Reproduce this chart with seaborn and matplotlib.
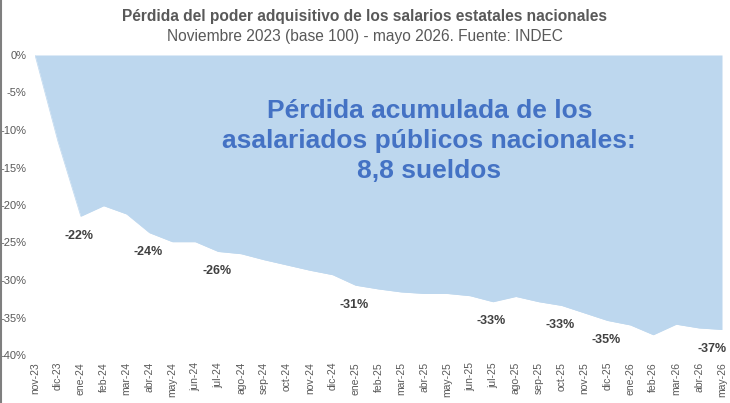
import matplotlib
matplotlib.use("Agg")
import matplotlib.pyplot as plt
import seaborn as sns
import pandas as pd
import numpy as np
from matplotlib.lines import Line2D

sns.set_theme(style="white")
plt.rcParams['font.family'] = ['Liberation Sans', 'DejaVu Sans']

months = ["nov-23", "dic-23", "ene-24", "feb-24", "mar-24", "abr-24", "may-24", "jun-24",
          "jul-24", "ago-24", "sep-24", "oct-24", "nov-24", "dic-24", "ene-25", "feb-25",
          "mar-25", "abr-25", "may-25", "jun-25", "jul-25", "ago-25", "sep-25", "oct-25",
          "nov-25", "dic-25", "ene-26", "feb-26", "mar-26", "abr-26", "may-26"]
perdida = [0.0, -11.5, -21.5, -20.1, -21.2, -23.7, -24.9, -24.9,
           -26.2, -26.5, -27.3, -28.0, -28.7, -29.3, -30.7, -31.2,
           -31.6, -31.8, -31.8, -32.1, -32.9, -32.2, -32.9, -33.4,
           -34.4, -35.4, -36.0, -37.3, -35.9, -36.4, -36.6]
label_months = ["ene-24", "abr-24", "jul-24", "ene-25", "jul-25", "oct-25", "dic-25", "may-26"]
yticks = [0, -5, -10, -15, -20, -25, -30, -35, -40]

df = pd.DataFrame({"mes": months, "perdida": perdida})
df["pos"] = np.arange(len(df))

fig = plt.figure(figsize=(7.30, 4.03), dpi=100)
ax = fig.add_axes([35 / 730, 1 - 355 / 403, (722 - 35) / 730, 300 / 403])

sns.lineplot(data=df, x="pos", y="perdida", ax=ax, color="#BDD7EE", linewidth=0.5)
ax.fill_between(df["pos"], df["perdida"], 0, color="#BDD7EE", linewidth=0)

ax.set_xlim(0, len(df) - 1)
ax.set_ylim(-40, 0)
ax.set_xticks(df["pos"])
ax.set_xticklabels(df["mes"], rotation=90, fontsize=7.5, color="#595959")
ax.set_yticks(yticks)
ax.set_yticklabels([f"{v}%" for v in yticks], fontsize=8, color="#595959")
ax.tick_params(axis="x", length=0, pad=5)
ax.tick_params(axis="y", length=0, pad=6)
ax.set_xlabel("")
ax.set_ylabel("")
for s in ax.spines.values():
    s.set_visible(False)

last = len(df) - 1
for m in label_months:
    row = df[df["mes"] == m].iloc[0]
    dx = -7 if row["pos"] == last else -1
    ax.annotate(f"{round(row['perdida']):d}%", (row["pos"], row["perdida"]),
                xytext=(dx, -14), textcoords="offset points", ha="center", va="center",
                fontsize=9, fontweight="bold", color="#404040")

ax.text(0.574, 0.713, "Pérdida acumulada de los\nasalariados públicos nacionales:\n8,8 sueldos",
        transform=ax.transAxes, ha="center", va="center", fontsize=19, fontweight="bold",
        color="#4472C4", linespacing=1.32)

fig.text(0.5, 1 - 17 / 403, "Pérdida del poder adquisitivo de los salarios estatales nacionales",
         ha="center", va="center", fontsize=11.2, fontweight="bold", color="#595959")
fig.text(0.5, 1 - 36 / 403, "Noviembre 2023 (base 100) - mayo 2026. Fuente: INDEC",
         ha="center", va="center", fontsize=11.2, color="#595959")

fig.add_artist(Line2D([0.0015, 0.0015], [0, 1], transform=fig.transFigure, color="#7f7f7f", linewidth=1.5))

fig.savefig("out.png", dpi=100)
